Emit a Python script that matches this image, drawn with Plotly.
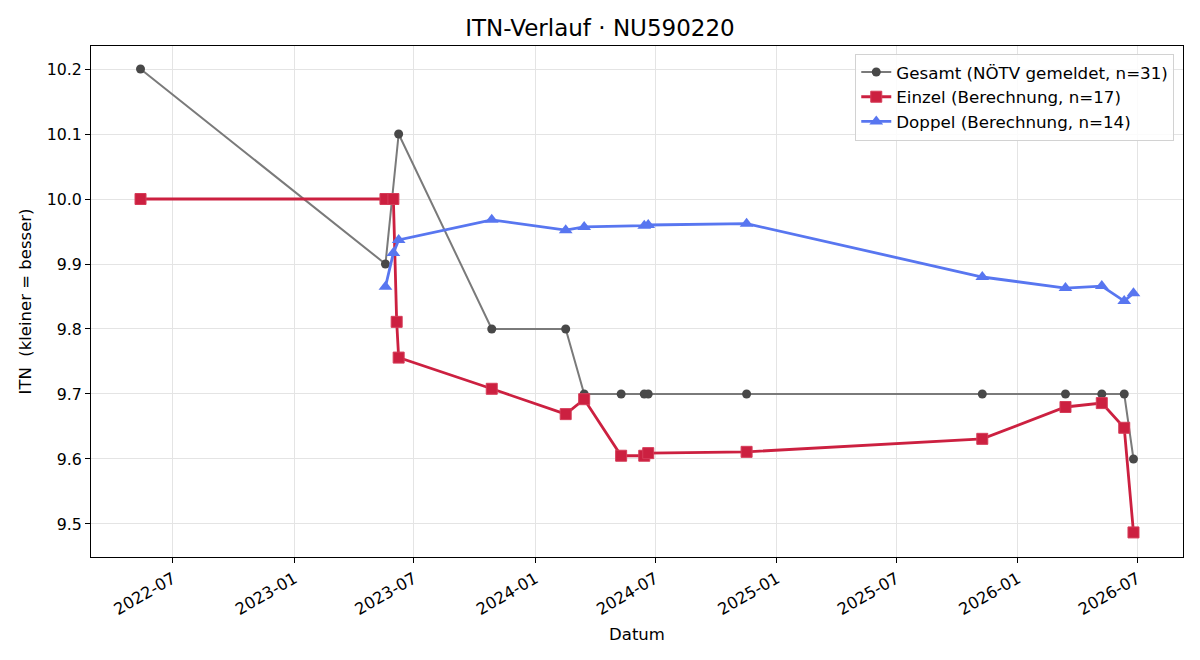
import plotly.graph_objects as go

# Gesamt (NÖTV gemeldet)
ges_dates = ["2022-05-13", "2023-05-19", "2023-06-08", "2023-10-27", "2024-02-16",
             "2024-03-15", "2024-05-10", "2024-06-14", "2024-06-20", "2024-11-16",
             "2025-11-08", "2026-03-14", "2026-05-08", "2026-06-11", "2026-06-25"]
ges_vals = [10.2, 9.9, 10.1, 9.8, 9.8, 9.7, 9.7, 9.7, 9.7, 9.7, 9.7, 9.7, 9.7, 9.7, 9.6]

# Einzel (Berechnung)
ein_dates = ["2022-05-13", "2023-05-19", "2023-05-31", "2023-06-05", "2023-06-08",
             "2023-10-27", "2024-02-16", "2024-03-15", "2024-05-10", "2024-06-14",
             "2024-06-20", "2024-11-16", "2025-11-08", "2026-03-14", "2026-05-08",
             "2026-06-11", "2026-06-25"]
ein_vals = [10.0, 10.0, 10.0, 9.811, 9.756, 9.708, 9.669, 9.692, 9.605, 9.605,
            9.609, 9.611, 9.631, 9.680, 9.686, 9.648, 9.487]

# Doppel (Berechnung)
dop_dates = ["2023-05-19", "2023-05-31", "2023-06-08", "2023-10-27", "2024-02-16",
             "2024-03-15", "2024-06-14", "2024-06-20", "2024-11-16", "2025-11-08",
             "2026-03-14", "2026-05-08", "2026-06-11", "2026-06-25"]
dop_vals = [9.865, 9.917, 9.937, 9.968, 9.952, 9.957, 9.959, 9.960, 9.962, 9.880,
            9.863, 9.866, 9.843, 9.855]

FONT = "DejaVu Sans, Arial, sans-serif"

fig = go.Figure()
fig.add_trace(go.Scatter(
    x=ges_dates, y=ges_vals, mode="lines+markers",
    name="Gesamt (NÖTV gemeldet, n=31)",
    line=dict(color="rgb(122,122,122)", width=2),
    marker=dict(symbol="circle", size=9, color="rgb(72,72,72)", line=dict(width=0)),
))
fig.add_trace(go.Scatter(
    x=ein_dates, y=ein_vals, mode="lines+markers",
    name="Einzel (Berechnung, n=17)",
    line=dict(color="rgb(204,32,64)", width=2.8),
    marker=dict(symbol="square", size=11, color="rgb(204,32,64)",
                line=dict(width=1, color="rgb(214,60,88)")),
))
fig.add_trace(go.Scatter(
    x=dop_dates, y=dop_vals, mode="lines+markers",
    name="Doppel (Berechnung, n=14)",
    line=dict(color="rgb(88,118,240)", width=2.8),
    marker=dict(symbol="triangle-up", size=12, color="rgb(88,118,240)", line=dict(width=0)),
))

fig.update_layout(
    width=1200, height=660,
    margin=dict(l=91, r=17, t=46, b=103),
    paper_bgcolor="white", plot_bgcolor="white",
    font=dict(family=FONT, size=16, color="black"),
    title=dict(text="ITN-Verlauf · NU590220", x=0.5, xanchor="center",
               y=1 - 28 / 660, yanchor="middle", font=dict(size=23, family=FONT)),
    legend=dict(x=0.992, xanchor="right", y=0.985, yanchor="top",
                bgcolor="rgba(255,255,255,0.85)", bordercolor="rgb(210,210,210)",
                borderwidth=1, font=dict(size=16.7, family=FONT),
                tracegroupgap=0, itemwidth=30),
    showlegend=True,
)
fig.update_xaxes(
    type="date", range=["2022-02-27", "2026-09-08"],
    dtick="M6", tick0="2022-01-01", tickformat="%Y-%m", tickangle=-30,
    showgrid=True, gridcolor="rgb(228,228,228)", gridwidth=1,
    showline=True, linecolor="black", linewidth=1, mirror=True,
    ticks="outside", ticklen=5, tickcolor="black",
    tickfont=dict(size=16.3, family=FONT),
    title=dict(text="Datum", font=dict(size=16.5, family=FONT), standoff=10),
    zeroline=False,
)
fig.update_yaxes(
    range=[9.4492, 10.2354],
    tickmode="array", tickvals=[9.5, 9.6, 9.7, 9.8, 9.9, 10.0, 10.1, 10.2],
    ticktext=["9.5", "9.6", "9.7", "9.8", "9.9", "10.0", "10.1", "10.2"],
    showgrid=True, gridcolor="rgb(228,228,228)", gridwidth=1,
    showline=True, linecolor="black", linewidth=1, mirror=True,
    ticks="outside", ticklen=5, tickcolor="black",
    tickfont=dict(size=15.8, family=FONT),
    title=dict(text="ITN\u00a0 (kleiner = besser)", font=dict(size=16.5, family=FONT), standoff=10),
    zeroline=False,
)

fig.write_html("out.html")
